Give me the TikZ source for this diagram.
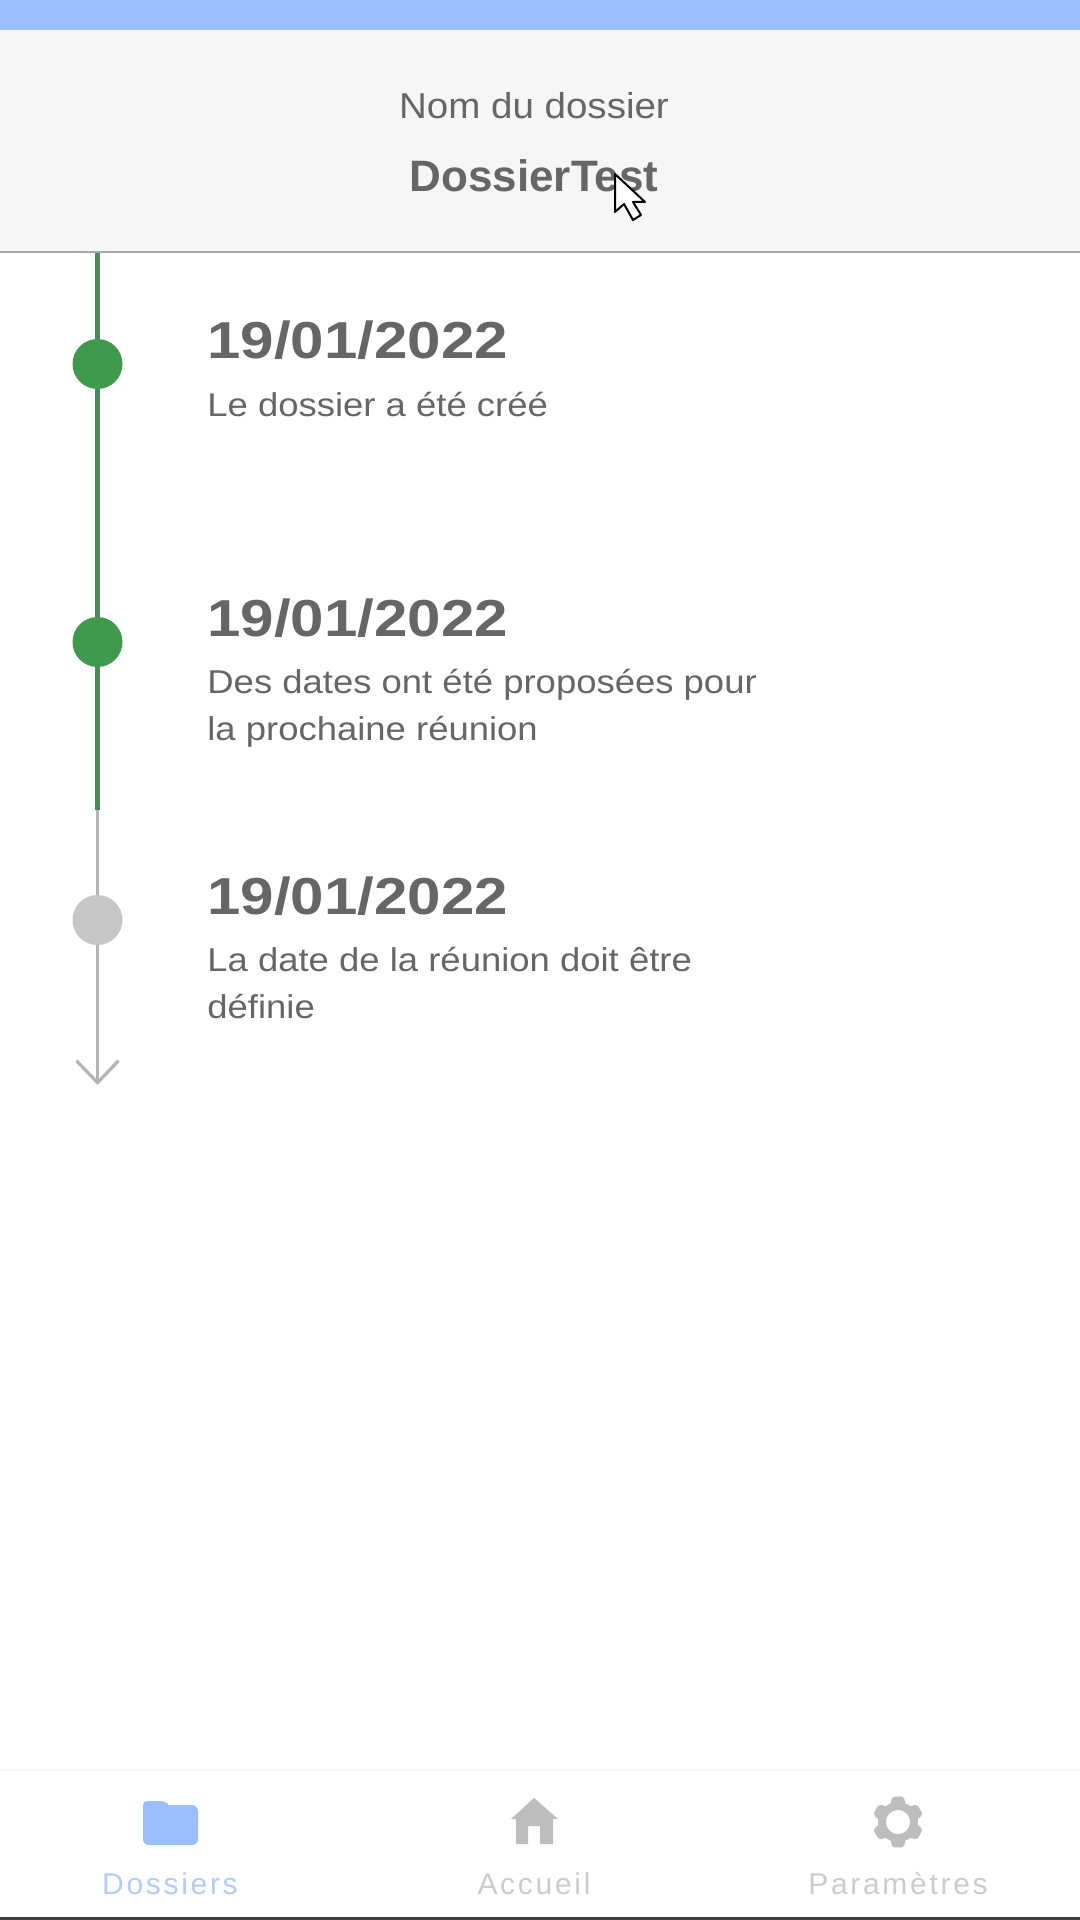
\documentclass[tikz,border=0pt]{standalone}
\usepackage{fontspec}
\setmainfont{Liberation Sans}
\usetikzlibrary{arrows.meta}
\definecolor{barblue}{HTML}{9BBEFF}
\definecolor{headgray}{HTML}{F6F6F6}
\definecolor{rulegray}{HTML}{A8A8A8}
\definecolor{donegreen}{HTML}{3F9A4E}
\definecolor{linegreen}{HTML}{4A8A5C}
\definecolor{waitgray}{HTML}{C6C6C6}
\definecolor{linegray}{HTML}{B4B4B4}
\definecolor{textgray}{HTML}{666666}
\definecolor{tabblue}{HTML}{B5CDF5}
\definecolor{tabgray}{HTML}{CCCCCC}
\definecolor{icongray}{HTML}{BDBDBD}
\tikzset{
  dot/.style={circle,inner sep=0pt,minimum size=25pt},
  datetxt/.style={anchor=base west,inner sep=0pt,text=textgray,font=\fontsize{26}{30}\selectfont\bfseries\addfontfeature{FakeStretch=1.155}},
  subtxt/.style={anchor=base west,inner sep=0pt,text=textgray,font=\fontsize{16.5}{20}\selectfont\addfontfeature{FakeStretch=1.105}},
  tabtxt/.style={anchor=base,inner sep=0pt,font=\fontsize{15}{18}\selectfont\addfontfeature{LetterSpace=9}}
}
\begin{document}
\begin{tikzpicture}[x=0.5pt,y=-0.5pt]
\useasboundingbox (0,0) rectangle (1080,1920);
\fill[white] (0,0) rectangle (1080,1920);
\fill[headgray] (0,30) rectangle (1080,252);
\fill[barblue] (0,0) rectangle (1080,30);
\draw[rulegray,line width=1.4pt] (0,252)--(1080,252);
\node[anchor=base,inner sep=0pt,text=textgray,font=\fontsize{18}{22}\selectfont\addfontfeature{FakeStretch=1.07}] (title) at (534,119) {Nom du dossier};
\node[anchor=base,inner sep=0pt,text=textgray,font=\fontsize{22}{26}\selectfont\bfseries] (name) at (534,192) {DossierTest};
% timeline
\coordinate (start) at (97.5,253); \coordinate (change) at (97.5,810); \coordinate (tip) at (97.5,1085);
\node[dot,fill=donegreen] (dot1) at (97.5,364) {};
\node[dot,fill=donegreen] (dot2) at (97.5,642) {};
\node[dot,fill=waitgray] (dot3) at (97.5,920) {};
\draw[linegreen,line width=2.4pt] (start)--(dot1); \draw[linegreen,line width=2.4pt] (dot1)--(dot2); \draw[linegreen,line width=2.4pt] (dot2)--(change);
\draw[linegray,line width=1.6pt] (change)--(dot3);
\draw[-{Straight Barb[length=11pt,width=21pt]},linegray,line width=1.6pt] (dot3)--(tip);
\node[datetxt] (date1) at (207,358) {19/01/2022};
\node[subtxt] (sub1) at (207,416) {Le dossier a été créé};
\node[datetxt] (date2) at (207,636) {19/01/2022};
\node[subtxt] (sub2) at (207,693) {Des dates ont été proposées pour};
\node[subtxt] (sub2b) at (207,740) {la prochaine réunion};
\node[datetxt] (date3) at (207,914) {19/01/2022};
\node[subtxt] (sub3) at (207,971) {La date de la réunion doit être};
\node[subtxt] (sub3b) at (207,1018) {définie};
% cursor
\draw[black,fill=white,line width=1pt,line join=round] (615,174)--(615,212)--(624,204)--(633,220)--(641,215)--(633,202)--(645,202)--cycle;
% tab bar
\draw[black!4,line width=1pt] (0,1770)--(1080,1770);
\fill[black!75] (0,1917) rectangle (1080,1920);
\fill[barblue,rounded corners=3pt] (143,1845) rectangle (198,1805);
\fill[barblue,rounded corners=2pt] (143,1815)--(143,1801)--(165,1801)--(170,1806)--(170,1815)--cycle;
\fill[icongray,line join=round] (534,1798)--(558,1819)--(553,1819)--(553,1844)--(540,1844)--(540,1826)--(528,1826)--(528,1844)--(516,1844)--(516,1819)--(511,1819)--cycle;
\coordinate (gear) at (898,1822);
\fill[icongray] (gear) circle (20);
\foreach \a in {30,90,...,330}
  \fill[icongray,rounded corners=1pt] ([shift={(\a-26:18)}]gear)--([shift={(\a-13:26)}]gear)--([shift={(\a+13:26)}]gear)--([shift={(\a+26:18)}]gear)--cycle;
\fill[white] (gear) circle (12);
\node[tabtxt,text=tabblue] (tab1) at (170,1894) {Dossiers};
\node[tabtxt,text=tabgray] (tab2) at (534,1894) {Accueil};
\node[tabtxt,text=tabgray] (tab3) at (898,1894) {Paramètres};
\end{tikzpicture}
\end{document}
